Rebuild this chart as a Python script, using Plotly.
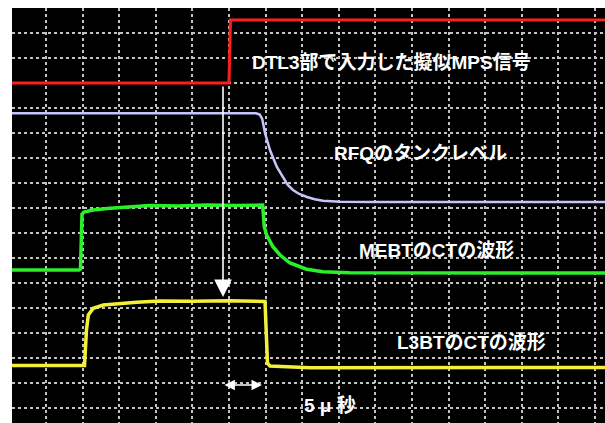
import plotly.graph_objects as go

# Time axis in microseconds (5 us per division), vertical axis in divisions.
mps_t = [-4.7, 25.0, 25.2, 76.5]
mps_v = [13.0, 13.0, 15.52, 15.52]

rfq_t = [-4.7, 28.7, 29.2, 29.55, 29.92, 30.6, 31.52, 32.38, 33.0, 33.74, 34.6,
         35.66, 36.7, 37.84, 40.16, 45.0, 76.5]
rfq_v = [11.79, 11.79, 11.74, 11.55, 11.0, 10.32, 9.65, 9.2, 8.93, 8.72, 8.56,
         8.44, 8.35, 8.29, 8.25, 8.24, 8.24]

mebt_t = [-4.7, 4.51, 4.71, 4.92, 5.19, 6.42, 8.74, 11.5, 14.2, 18.0, 22.0, 26.0, 29.6,
          29.82, 30.15, 31.0, 31.97, 33.33, 35.6, 37.84, 41.5, 76.5]
mebt_v = [5.52, 5.52, 5.56, 7.76, 7.84, 7.92, 7.99, 8.04, 8.1, 8.08, 8.12, 8.1, 8.12,
          7.25, 6.92, 6.45, 6.12, 5.8, 5.55, 5.45, 5.41, 5.4]

l3bt_t = [-4.7, 5.26, 5.53, 5.78, 6.46, 7.83, 12.39, 15.57, 20.0, 25.0, 29.92,
          30.12, 30.26, 30.6, 36.07, 76.5]
l3bt_v = [1.70, 1.70, 3.12, 3.72, 3.99, 4.12, 4.23, 4.28, 4.27, 4.29, 4.26,
          2.72, 1.8, 1.68, 1.61, 1.62]

trigger_t = 24.18
trigger_from, trigger_to = 12.92, 4.44
span_t0, span_t1, span_v = 24.18, 29.5, 0.92

labels = [
    ("DTL3部で入力した擬似MPS信号", 27.87, 13.84),
    ("RFQのタンクレベル", 39.07, 10.2),
    ("MEBTのCTの波形", 42.49, 6.32),
    ("L3BTのCTの波形", 47.68, 2.64),
    ("5 μ 秒", 34.97, 0.12),
]

fig = go.Figure()
fig.add_trace(go.Scatter(x=mps_t, y=mps_v, mode="lines",
                         line=dict(color="#ff1e1e", width=3)))
fig.add_trace(go.Scatter(x=rfq_t, y=rfq_v, mode="lines",
                         line=dict(color="#c4c4ff", width=2.5)))
fig.add_trace(go.Scatter(x=mebt_t, y=mebt_v, mode="lines",
                         line=dict(color="#2af02a", width=3.5)))
fig.add_trace(go.Scatter(x=l3bt_t, y=l3bt_v, mode="lines",
                         line=dict(color="#f4f03a", width=3.5)))

font = dict(family="Liberation Sans, Noto Sans CJK JP", size=19, color="white")
annotations = [
    dict(x=t, y=v, text=f"<b>{s}</b>", showarrow=False, xanchor="left",
         yanchor="middle", font=font)
    for s, t, v in labels
]
annotations.append(dict(x=trigger_t, y=trigger_to, ax=trigger_t, ay=trigger_from,
                        axref="x", ayref="y", text="", showarrow=True,
                        arrowhead=2, arrowsize=2.2, arrowwidth=1.6, arrowcolor="white"))
annotations.append(dict(x=span_t1, y=span_v, ax=span_t0, ay=span_v,
                        axref="x", ayref="y", text="", showarrow=True,
                        arrowhead=2, startarrowhead=2, arrowside="end+start",
                        arrowsize=1.3, startarrowsize=1.3, arrowwidth=1.6,
                        arrowcolor="white"))

grid = dict(showgrid=True, gridcolor="#c2c2c2", gridwidth=1.5,
            griddash="dot", zeroline=False, showticklabels=False,
            ticks="", showline=False, fixedrange=True, layer="below traces")

fig.update_layout(
    width=605, height=423,
    margin=dict(l=12, r=0, t=8, b=0),
    paper_bgcolor="white", plot_bgcolor="black",
    showlegend=False,
    annotations=annotations,
    xaxis=dict(range=[-4.645, 76.37], dtick=5, tick0=0, **grid),
    yaxis=dict(range=[-0.6, 16], dtick=1, tick0=0, **grid),
)

fig.write_html("out.html")
